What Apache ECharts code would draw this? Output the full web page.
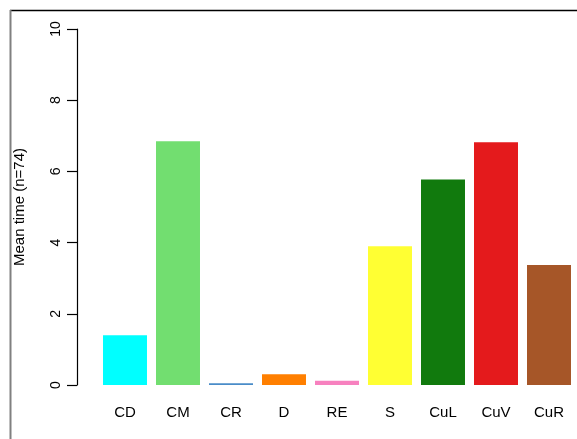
<!DOCTYPE html>
<html>
<head>
<meta charset="utf-8">
<script src="https://cdn.jsdelivr.net/npm/echarts@6/dist/echarts.min.js"></script>
<style>
  html, body { margin: 0; padding: 0; background: #ffffff; }
  #chart { width: 577px; height: 439px; }
</style>
</head>
<body>
<div id="chart"></div>
<script>
// Behaviour categories and their mean times
const categories = ['CD', 'CM', 'CR', 'D', 'RE', 'S', 'CuL', 'CuV', 'CuR'];
const meanTimes = [1.40, 6.85, 0.05, 0.30, 0.12, 3.90, 5.77, 6.82, 3.37];
const barColors = ['#00FFFF', '#72DE70', '#4A8CC8', '#FF7F00', '#F781BF', '#FFFF33', '#117A0D', '#E41A1C', '#A65628'];
const yTicks = [0, 2, 4, 6, 8, 10];

const chart = echarts.init(document.getElementById('chart'), null, { renderer: 'canvas' });

const font = '"Liberation Sans", Arial, sans-serif';

chart.setOption({
  animation: false,
  backgroundColor: '#ffffff',
  grid: { left: 98.5, right: 1.5, top: 29, bottom: 54, containLabel: false },
  xAxis: {
    type: 'category',
    data: categories,
    axisLine: { show: false },
    axisTick: { show: false },
    axisLabel: { color: '#000', fontFamily: font, fontSize: 15, margin: 20, interval: 0 }
  },
  yAxis: {
    type: 'value',
    min: yTicks[0],
    max: yTicks[yTicks.length - 1],
    interval: 2,
    offset: 21.5,
    name: 'Mean time (n=74)',
    nameLocation: 'middle',
    nameGap: 50,
    nameTextStyle: { color: '#000', fontFamily: font, fontSize: 15 },
    splitLine: { show: false },
    axisLine: { show: true, lineStyle: { color: '#000', width: 1.2 } },
    axisTick: { show: true, length: 10, lineStyle: { color: '#000', width: 1.2 } },
    axisLabel: { color: '#000', fontFamily: font, fontSize: 14, rotate: 90, margin: 14 }
  },
  series: [{
    type: 'bar',
    data: meanTimes.map((v, i) => ({ value: v, itemStyle: { color: barColors[i] } })),
    barCategoryGap: '17%'
  }],
  graphic: [
    { type: 'line', shape: { x1: 10, y1: 10.5, x2: 577, y2: 10.5 }, style: { stroke: '#000', lineWidth: 1.5 } },
    { type: 'line', shape: { x1: 10.5, y1: 10, x2: 10.5, y2: 439 }, style: { stroke: '#808080', lineWidth: 2 } }
  ]
});
</script>
</body>
</html>
